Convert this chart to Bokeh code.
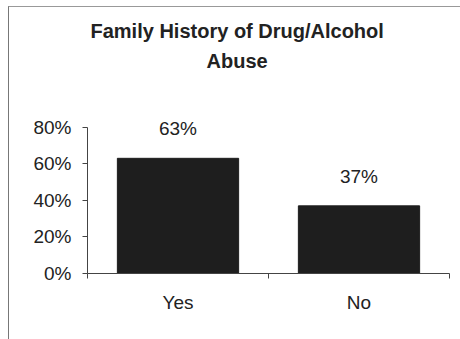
from bokeh.plotting import figure
from bokeh.models import ColumnDataSource, LabelSet, FixedTicker, Range1d, NumeralTickFormatter, Title
from bokeh.core.properties import value
from bokeh.embed import file_html
from bokeh.resources import INLINE

categories = ["Yes", "No"]
values = [0.63, 0.37]
value_labels = ["63%", "37%"]
y_ticks = [0, 0.2, 0.4, 0.6, 0.8]
title_lines = ["Family History of Drug/Alcohol", "Abuse"]

xs = [i + 0.5 for i in range(len(categories))]
src = ColumnDataSource(dict(x=xs, top=values, label=value_labels))

FONT = "Liberation Sans"
TXT = "#222222"
AX = "#444444"

p = figure(width=452, height=333, output_backend="svg", toolbar_location=None, title=None,
           x_range=Range1d(0, len(categories)), y_range=Range1d(0, 1.072),
           min_border_left=78, min_border_right=12, min_border_top=70, min_border_bottom=67,
           margin=(6, 0, 0, 8))
p.styles = {"border-left": "1px solid #777", "border-top": "1px solid #999"}
p.outline_line_color = None
p.grid.visible = False
p.background_fill_color = "white"
p.border_fill_color = "white"

p.vbar(x="x", top="top", width=0.67, bottom=0, source=src,
       fill_color="#1e1e1e", line_color="#1e1e1e")

p.add_layout(LabelSet(x="x", y="top", text="label", source=src, text_align="center",
                      text_baseline="bottom", y_offset=19, text_font=value(FONT),
                      text_font_size="19px", text_color=TXT))

# titles: first added sits nearest the frame
p.add_layout(Title(text=title_lines[1], align="left", offset=119, standoff=12,
                   text_font=FONT, text_font_size="20px", text_font_style="bold",
                   text_color=TXT), "above")
p.add_layout(Title(text=title_lines[0], align="left", offset=3, standoff=0,
                   text_font=FONT, text_font_size="20px", text_font_style="bold",
                   text_color=TXT), "above")

ya = p.yaxis[0]
ya.ticker = FixedTicker(ticks=y_ticks)
ya.bounds = (0, 0.8)
ya.formatter = NumeralTickFormatter(format="0%")
ya.major_tick_out = 5
ya.major_tick_in = 0
ya.minor_tick_line_color = None
ya.major_label_standoff = 11
ya.major_label_text_font = FONT
ya.major_label_text_font_size = "19px"
ya.major_label_text_color = TXT
ya.axis_line_color = AX
ya.major_tick_line_color = AX

xa = p.xaxis[0]
xa.ticker = FixedTicker(ticks=xs, minor_ticks=list(range(len(categories) + 1)))
xa.major_label_overrides = {x: c for x, c in zip(xs, categories)}
xa.major_tick_line_color = None
xa.minor_tick_out = 5
xa.minor_tick_in = 0
xa.minor_tick_line_color = AX
xa.axis_line_color = AX
xa.major_label_standoff = 12
xa.major_label_text_font = FONT
xa.major_label_text_font_size = "19px"
xa.major_label_text_color = TXT

open("out.html", "w").write(file_html(p, INLINE))
